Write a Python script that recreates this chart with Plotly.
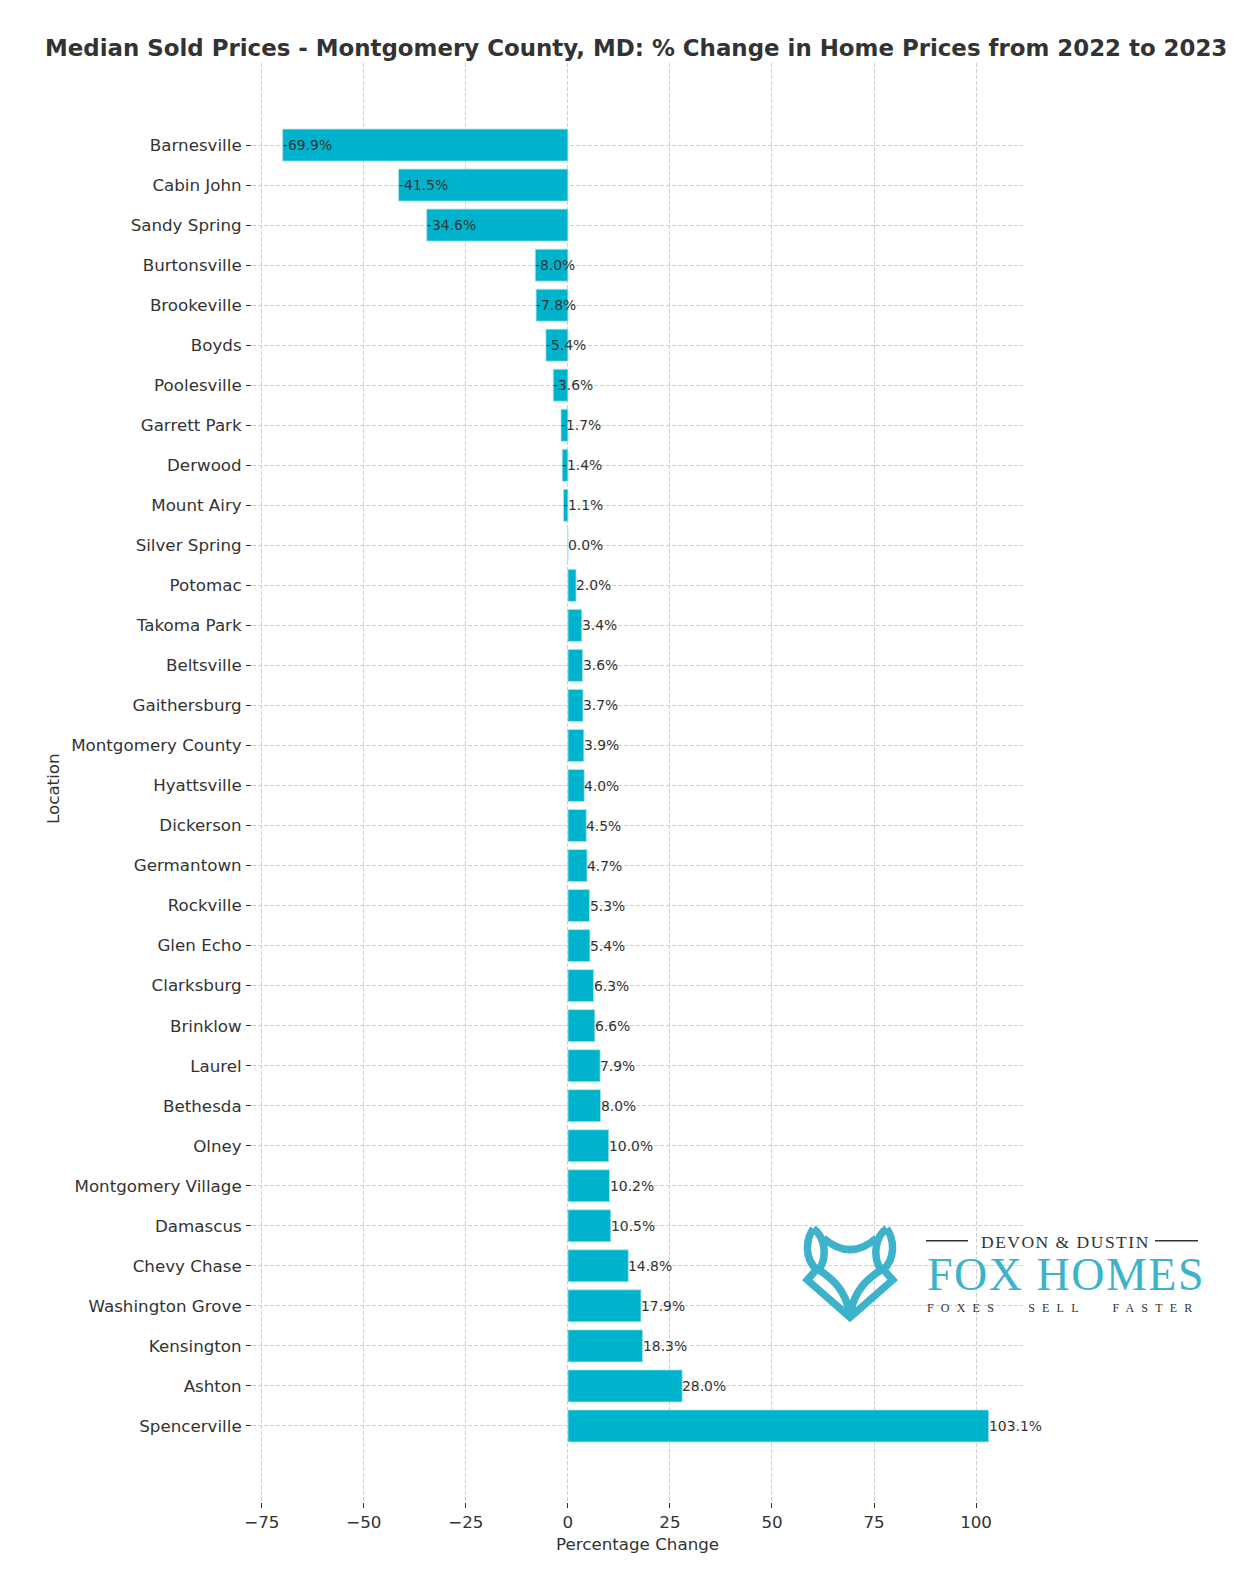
import plotly.graph_objects as go

# ---------------- data ----------------
locations = [
    "Barnesville", "Cabin John", "Sandy Spring", "Burtonsville", "Brookeville",
    "Boyds", "Poolesville", "Garrett Park", "Derwood", "Mount Airy",
    "Silver Spring", "Potomac", "Takoma Park", "Beltsville", "Gaithersburg",
    "Montgomery County", "Hyattsville", "Dickerson", "Germantown", "Rockville",
    "Glen Echo", "Clarksburg", "Brinklow", "Laurel", "Bethesda", "Olney",
    "Montgomery Village", "Damascus", "Chevy Chase", "Washington Grove",
    "Kensington", "Ashton", "Spencerville",
]
pct_change = [
    -69.9, -41.5, -34.6, -8.0, -7.8,
    -5.4, -3.6, -1.7, -1.4, -1.1,
    0.0, 2.0, 3.4, 3.6, 3.7,
    3.9, 4.0, 4.5, 4.7, 5.3,
    5.4, 6.3, 6.6, 7.9, 8.0, 10.0,
    10.2, 10.5, 14.8, 17.9,
    18.3, 28.0, 103.1,
]
x_ticks = [-75, -50, -25, 0, 25, 50, 75, 100]

title_text = "Median Sold Prices - Montgomery County, MD: % Change in Home Prices from 2022 to 2023"
x_title = "Percentage Change"
y_title = "Location"

# ---------------- layout geometry ----------------
# the page body has an 8px margin, so the figure is placed at (8, 8)
OFF = 8
W, H = 1256 - 2 * OFF, 1587 - 2 * OFF
PLOT_L, PLOT_R, PLOT_T, PLOT_B = 252, 1023, 63, 1502  # in page pixels
ML, MR, MT, MB = PLOT_L - OFF, W - (PLOT_R - OFF), PLOT_T - OFF, H - (PLOT_B - OFF)
PW, PH = W - ML - MR, H - MT - MB

BAR_COLOR = "#00b3cc"
TEAL = "#3cb2cb"
TXT = "#333333"
FONT = "DejaVu Sans"
SERIF = "Liberation Serif"


def px(x, y):
    """page pixel -> paper coordinates"""
    return (x - PLOT_L) / PW, (PLOT_B - y) / PH


fig = go.Figure()
fig.add_trace(go.Bar(
    x=pct_change, y=locations, orientation="h", width=0.8,
    marker=dict(color=BAR_COLOR, line=dict(color="#aee6ef", width=0.8)),
    hoverinfo="skip",
))

annotations = []
for loc, v in zip(locations, pct_change):
    annotations.append(dict(
        x=v, y=loc, xref="x", yref="y", text=f"{v:.1f}%", showarrow=False,
        xanchor="left", yanchor="middle", xshift=-2,
        font=dict(family=FONT, size=13.9, color=TXT),
    ))

# title
tx, ty = px(636, 47.5)
annotations.append(dict(x=tx, y=ty, xref="paper", yref="paper", text=f"<b>{title_text}</b>",
                        showarrow=False, xanchor="center", yanchor="middle",
                        font=dict(family=FONT, size=22.9, color=TXT)))
# axis titles
ax_, ay_ = px(637, 1544)
annotations.append(dict(x=ax_, y=ay_, xref="paper", yref="paper", text=x_title, showarrow=False,
                        xanchor="center", yanchor="middle", font=dict(family=FONT, size=16.7, color=TXT)))
lx, ly = px(53, 788)
annotations.append(dict(x=lx, y=ly, xref="paper", yref="paper", text=y_title, showarrow=False,
                        textangle=-90, xanchor="center", yanchor="middle",
                        font=dict(family=FONT, size=16.7, color=TXT)))

# ---------------- logo ----------------
x0, y0 = px(979, 1241.5)
annotations.append(dict(x=x0, y=y0, xref="paper", yref="paper",
                        text='<span style="letter-spacing:1.5px">DEVON &amp; DUSTIN</span>',
                        showarrow=False, xanchor="left", yanchor="middle",
                        font=dict(family=SERIF, size=17.5, color=TXT)))
x0, y0 = px(925, 1274)
annotations.append(dict(x=x0, y=y0, xref="paper", yref="paper",
                        text='<span style="letter-spacing:1.5px">FOX HOMES</span>',
                        showarrow=False, xanchor="left", yanchor="middle",
                        font=dict(family=SERIF, size=46, color=TEAL)))
x0, y0 = px(925, 1308)
annotations.append(dict(x=x0, y=y0, xref="paper", yref="paper",
                        text='<span style="letter-spacing:7.2px;word-spacing:17px">FOXES SELL FASTER</span>',
                        showarrow=False, xanchor="left", yanchor="middle",
                        font=dict(family=SERIF, size=12, color=TXT)))

shapes = []
for (xa, xb) in [(926, 968), (1155, 1198)]:
    p0 = px(xa, 1240.7)
    p1 = px(xb, 1240.7)
    shapes.append(dict(type="line", xref="paper", yref="paper", x0=p0[0], y0=p0[1],
                       x1=p1[0], y1=p1[1], line=dict(color=TXT, width=1.6)))


# fox icon drawn in a local 3x grid anchored at page pixel (790,1200)
def z(zx, zy):
    a, b = px(790 + zx / 3.0, 1200 + zy / 3.0)
    return f"{a:.5f},{b:.5f}"


fox_paths = [
    # outer outline
    f"M {z(70,86)} C {z(46,120)} {z(44,178)} {z(80,208)} L {z(52,240)} L {z(180,352)} "
    f"L {z(308,240)} L {z(280,208)} C {z(316,178)} {z(314,120)} {z(290,86)}",
    # brow
    f"M {z(100,114)} Q {z(180,184)} {z(260,114)}",
    # ear inner edges
    f"M {z(70,86)} C {z(104,108)} {z(114,172)} {z(86,210)}",
    f"M {z(290,86)} C {z(256,108)} {z(246,172)} {z(274,210)}",
    # snout lines
    f"M {z(84,208)} C {z(132,238)} {z(166,274)} {z(178,336)}",
    f"M {z(276,208)} C {z(228,238)} {z(194,274)} {z(182,336)}",
]
for p in fox_paths:
    shapes.append(dict(type="path", xref="paper", yref="paper", path=p,
                       line=dict(color=TEAL, width=7.5)))
# chin fill
shapes.append(dict(type="path", xref="paper", yref="paper",
                   path=f"M {z(160,325)} L {z(200,325)} L {z(180,350)} Z",
                   fillcolor=TEAL, line=dict(color=TEAL, width=3)))

fig.update_layout(
    width=W, height=H,
    margin=dict(l=ML, r=MR, t=MT, b=MB, autoexpand=False),
    paper_bgcolor="white", plot_bgcolor="white",
    showlegend=False,
    annotations=annotations,
    shapes=shapes,
    bargap=0.2,
)
fig.update_xaxes(
    range=[-77.4, 111.5], tickvals=x_ticks, showline=False, zeroline=False,
    showgrid=True, gridcolor="#d0d0d0", gridwidth=1, griddash="4px,2px",
    ticks="outside", ticklen=5, tickwidth=1, tickcolor=TXT,
    tickfont=dict(family=FONT, size=16.7, color=TXT),
)
fig.update_yaxes(
    type="category", categoryorder="array", categoryarray=locations,
    range=[33.9, -2.05], showline=False, zeroline=False,
    showgrid=True, gridcolor="#d0d0d0", gridwidth=1, griddash="4px,2px",
    ticks="outside", ticklen=5, tickwidth=1, tickcolor=TXT,
    tickfont=dict(family=FONT, size=16.7, color=TXT), ticklabelstandoff=1,
)

fig.write_html("out.html")
